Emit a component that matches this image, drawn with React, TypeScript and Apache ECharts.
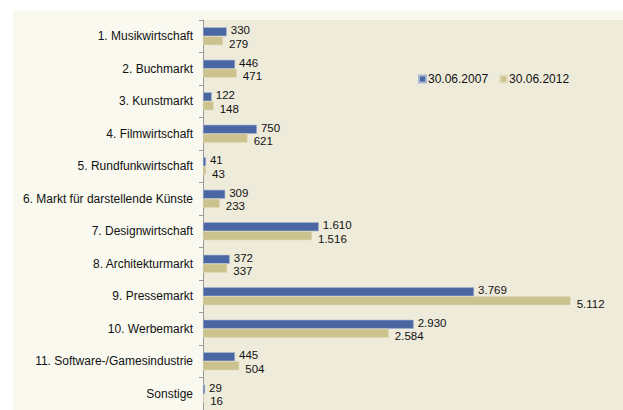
import React, { useEffect, useRef } from "react";
import * as echarts from "echarts";

const categories = [
  "1. Musikwirtschaft",
  "2. Buchmarkt",
  "3. Kunstmarkt",
  "4. Filmwirtschaft",
  "5. Rundfunkwirtschaft",
  "6. Markt für darstellende Künste",
  "7. Designwirtschaft",
  "8. Architekturmarkt",
  "9. Pressemarkt",
  "10. Werbemarkt",
  "11. Software-/Gamesindustrie",
  "Sonstige",
];
const series2007 = [330, 446, 122, 750, 41, 309, 1610, 372, 3769, 2930, 445, 29];
const series2012 = [279, 471, 148, 621, 43, 233, 1516, 337, 5112, 2584, 504, 16];
const seriesNames = ["30.06.2007", "30.06.2012"];

const fmt = (v: number) => String(v).replace(/\B(?=(\d{3})+(?!\d))/g, ".");

export default function App() {
  const ref = useRef<HTMLDivElement>(null);
  useEffect(() => {
    if (!ref.current) return;
    const chart = echarts.init(ref.current, null, { renderer: "svg" });
    const font = "Liberation Sans";
    chart.setOption({
      animation: false,
      backgroundColor: "transparent",
      textStyle: { fontFamily: font },
      legend: {
        left: 413,
        top: 68,
        itemWidth: 7,
        itemHeight: 7,
        itemGap: 11,
        icon: "rect",
        textStyle: { fontFamily: font, fontSize: 12, color: "#111", padding: [0, 0, 0, -3] },
        data: seriesNames,
      },
      grid: {
        left: 203,
        top: 20,
        right: 0,
        height: 393,
        show: true,
        backgroundColor: "#eeebdb",
        borderWidth: 0,
      },
      xAxis: {
        type: "value",
        min: 0,
        max: 5840,
        show: false,
      },
      yAxis: {
        type: "category",
        inverse: true,
        data: categories,
        axisLine: { show: true, lineStyle: { color: "#9a9a9a", width: 1 } },
        axisTick: { show: true, length: 4, lineStyle: { color: "#9a9a9a" } },
        axisLabel: { fontFamily: font, fontSize: 12, color: "#111", margin: 10 },
      },
      series: [
        {
          name: seriesNames[0],
          type: "bar",
          data: series2007,
          barWidth: 9,
          barGap: "0%",
          itemStyle: { color: "#4a67a3", borderColor: "#a9b6d3", borderWidth: 0.6 },
          label: {
            show: true,
            position: "right",
            distance: 4,
            offset: [0, -1.5],
            fontFamily: font,
            fontSize: 11.5,
            lineHeight: 11,
            color: "#111",
            formatter: (p: any) => fmt(p.value),
          },
        },
        {
          name: seriesNames[1],
          type: "bar",
          data: series2012,
          barWidth: 9,
          barGap: "0%",
          itemStyle: { color: "#cbc28d", borderColor: "#e2dcbb", borderWidth: 0.6 },
          label: {
            show: true,
            position: "right",
            distance: 6,
            offset: [0, 3],
            fontFamily: font,
            fontSize: 11.5,
            lineHeight: 11,
            color: "#111",
            formatter: (p: any) => fmt(p.value),
          },
        },
      ],
    });
    return () => chart.dispose();
  }, []);
  return (
    <div style={{ position: "fixed", left: 0, top: 0, width: 623, height: 410, background: "#fff", overflow: "hidden" }}>
      <div style={{ position: "absolute", left: 13, top: 10, width: 610, height: 400, background: "#f9f9ef" }} />
      <div ref={ref} style={{ position: "absolute", left: 0, top: 0, width: 623, height: 410 }} />
    </div>
  );
}
